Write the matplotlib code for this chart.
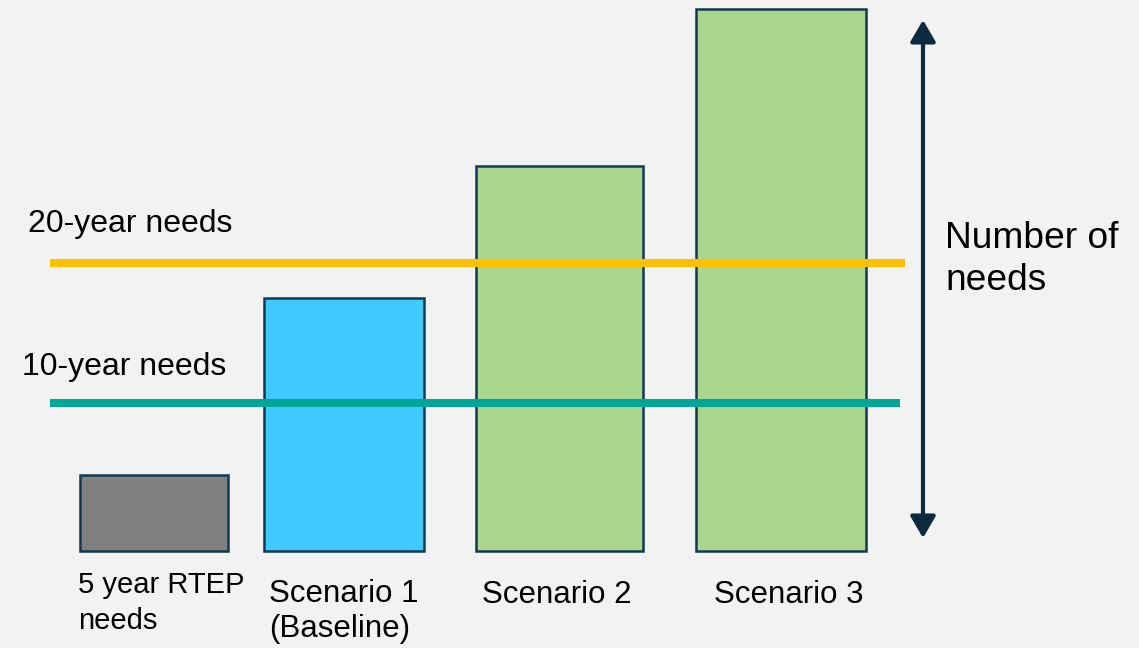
import matplotlib.pyplot as plt
from matplotlib.patches import FancyArrowPatch

plt.rcParams['font.family'] = ['Liberation Sans', 'DejaVu Sans']

# data (relative heights)
categories = ["5 year RTEP\nneeds", "Scenario 1\n(Baseline)", "Scenario 2", "Scenario 3"]
needs = [76, 253, 385, 542]
ten_year = 148
twenty_year = 288

# layout
centers = [154, 344, 559.5, 781]
widths = [148, 160, 167, 170]
colors = ['#808080', '#40C9FF', '#AAD68F', '#AAD68F']
edge = '#12394F'
bg = '#F2F2F2'

fig = plt.figure(figsize=(11.39, 6.48), dpi=100)
fig.patch.set_facecolor(bg)
ax = fig.add_axes([0, 0, 1, 1])
ax.set_facecolor(bg)
ax.set_xlim(0, 1139)
ax.set_ylim(-97, 551)
ax.axis('off')

ax.bar(centers, needs, width=widths, color=colors, edgecolor=edge,
       linewidth=1.8, zorder=2)

# threshold lines
ax.plot([50, 905], [twenty_year, twenty_year], color='#FFC000', lw=5.8,
        solid_capstyle='butt', zorder=3)
ax.plot([50, 900], [ten_year, ten_year], color='#00A698', lw=5.8,
        solid_capstyle='butt', zorder=3)

ax.text(28, 551 - 232, "20-year needs", fontsize=23, va='baseline', ha='left')
ax.text(22, 551 - 375, "10-year needs", fontsize=23, va='baseline', ha='left')

# category labels (baseline = last line for multi-line labels)
label_x = [78, 269, 482, 714]
label_size = [21, 22.5, 22.5, 22.5]
label_base = [629, 637, 603, 603]
label_ls = [1.35, 1.22, 1.2, 1.2]
for lbl, lx, fs, lb, ls in zip(categories, label_x, label_size, label_base, label_ls):
    ax.text(lx, 551 - lb, lbl, fontsize=fs, va='baseline', ha='left',
            linespacing=ls)

# double arrow
arr = FancyArrowPatch((923, 551 - 538), (923, 551 - 20),
                      arrowstyle='<|-|>,head_length=6,head_width=3.5',
                      color='#0D2B3E', lw=3, mutation_scale=2.2,
                      shrinkA=0, shrinkB=0)
ax.add_patch(arr)
ax.text(945, 551 - 290, "Number of\nneeds", fontsize=26.7, va='baseline',
        ha='left', linespacing=1.26)

fig.savefig('out.png', dpi=100, facecolor=bg)
